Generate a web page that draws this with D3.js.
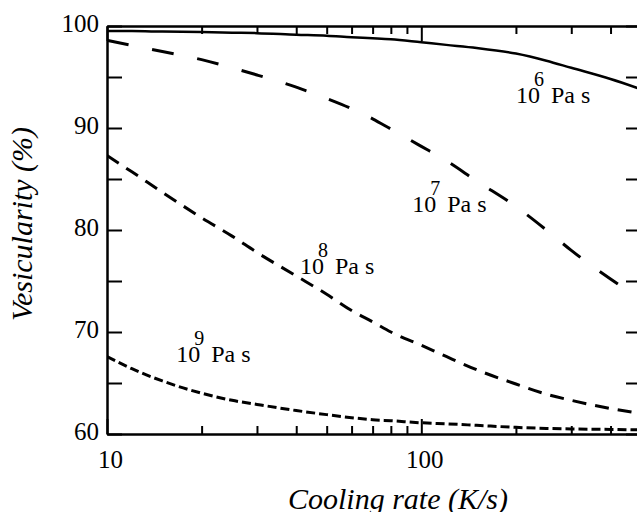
<!DOCTYPE html>
<meta charset="utf-8">
<style>
  body { margin: 0; background: #fff; }
  svg { display: block; }
  .axis path, .axis line { stroke: #000; stroke-width: 2; }
  .axis text, .title, .lab { font-family: "Liberation Serif", Tinos, "DejaVu Serif", "Times New Roman", Times, serif; fill: #000; }
  .axis text { font-size: 25px; }
  .title { font-style: italic; font-size: 30px; }
  .lab { font-size: 24px; }
</style>
<body>
<script src="https://d3js.org/d3.v7.min.js"></script>
<script>
// cooling rate (K/s) shared by all curves
var rate = [10, 12, 15, 20, 25, 30, 40, 50, 60, 70, 80, 100, 120, 150, 200, 250, 300, 400, 500];

// vesicularity (%) for each melt viscosity
var visc6 = [99.5, 99.5, 99.45, 99.4, 99.35, 99.3, 99.15, 99.05, 98.9, 98.8, 98.7, 98.4, 98.15, 97.85, 97.3, 96.6, 95.9, 94.8, 93.8];
var visc7 = [98.6, 98.1, 97.5, 96.7, 95.9, 95.2, 94.0, 92.9, 91.9, 90.9, 89.9, 88.2, 86.8, 84.8, 82.3, 80.0, 78.0, 75.2, 73.2];
var visc8 = [87.3, 85.7, 83.7, 81.2, 79.4, 77.8, 75.5, 73.7, 72.1, 71.0, 70.0, 68.7, 67.6, 66.3, 64.9, 63.9, 63.3, 62.5, 62.0];
var visc9 = [67.6, 66.4, 65.2, 64.0, 63.3, 62.9, 62.3, 61.9, 61.6, 61.4, 61.3, 61.1, 61.0, 60.85, 60.65, 60.55, 60.5, 60.45, 60.4];

var exponents = ["6", "7", "8", "9"];
// where each "10^n Pa s" label starts (rate, vesicularity at baseline)
var labelRate = [200, 93.5, 41.1, 16.6];
var labelVes = [92.45, 81.8, 75.7, 67.05];

var xMajor = [10, 100];
var xMinor = [20, 30, 40, 50, 60, 70, 80, 90, 200, 300, 400];
var yMajor = [60, 70, 80, 90, 100];
var yMinor = [65, 75, 85, 95];

var width = 637, height = 512;
var pLeft = 107, pRight = 641, pTop = 26, pBottom = 434;

var svg = d3.select("body").append("svg")
    .attr("width", width)
    .attr("height", height);

var x = d3.scaleLog().domain([10, 500]).range([pLeft, pRight]);
var y = d3.scaleLinear().domain([60, 100]).range([pBottom, pTop]);

// axes, ticks all pointing inward
svg.append("g").attr("class", "axis xlab")
    .attr("transform", "translate(0," + pBottom + ")")
    .call(d3.axisBottom(x).tickValues(xMajor).tickSizeInner(-15).tickSizeOuter(0)
      .tickPadding(16).tickFormat(d3.format("d")));
svg.append("g").attr("class", "axis")
    .attr("transform", "translate(0," + pBottom + ")")
    .call(d3.axisBottom(x).tickValues(xMinor).tickSizeInner(-8).tickSizeOuter(0).tickFormat(""));
svg.append("g").attr("class", "axis")
    .attr("transform", "translate(0," + pTop + ")")
    .call(d3.axisTop(x).tickValues(xMajor).tickSizeInner(-15).tickSizeOuter(0).tickFormat(""));
svg.append("g").attr("class", "axis")
    .attr("transform", "translate(0," + pTop + ")")
    .call(d3.axisTop(x).tickValues(xMinor).tickSizeInner(-8).tickSizeOuter(0).tickFormat(""));

svg.append("g").attr("class", "axis ylab")
    .attr("transform", "translate(" + pLeft + ",0)")
    .call(d3.axisLeft(y).tickValues(yMajor).tickSizeInner(-15).tickSizeOuter(0).tickPadding(8));
svg.append("g").attr("class", "axis")
    .attr("transform", "translate(" + pLeft + ",0)")
    .call(d3.axisLeft(y).tickValues(yMinor).tickSizeInner(-15).tickSizeOuter(0).tickFormat(""));
svg.append("g").attr("class", "axis")
    .attr("transform", "translate(" + pRight + ",0)")
    .call(d3.axisRight(y).tickValues(yMajor.concat(yMinor)).tickSizeInner(-15).tickSizeOuter(0).tickFormat(""));

// d3 puts font-family on the axis group; let the css win
svg.selectAll(".axis").attr("font-family", null).attr("font-size", null);

// nudge label positions to match the print
svg.selectAll(".ylab .tick text").attr("dy", "0.2em");
svg.selectAll(".xlab .tick text").attr("dx", 3);

// curves
var series = [
  { v: visc6, dash: null, w: 2.5 },
  { v: visc7, dash: "22,24", w: 3 },
  { v: visc8, dash: "14,9", w: 3 },
  { v: visc9, dash: "9,4", w: 3 }
];

var line = d3.line()
    .x(function(d) { return x(d[0]); })
    .y(function(d) { return y(d[1]); })
    .curve(d3.curveMonotoneX);

svg.append("clipPath").attr("id", "plot")
  .append("rect").attr("x", pLeft).attr("y", pTop)
    .attr("width", pRight - pLeft).attr("height", pBottom - pTop);

svg.append("g").attr("clip-path", "url(#plot)")
  .selectAll("path")
  .data(series)
  .enter().append("path")
    .attr("d", function(s) { return line(d3.zip(rate, s.v)); })
    .attr("fill", "none")
    .attr("stroke", "#000")
    .attr("stroke-width", function(s) { return s.w; })
    .attr("stroke-dasharray", function(s) { return s.dash; });

// curve labels
var labs = svg.selectAll("g.curvelab")
  .data(exponents)
  .enter().append("g")
    .attr("class", "curvelab")
    .attr("transform", function(d, i) {
      return "translate(" + x(labelRate[i]) + "," + y(labelVes[i]) + ")";
    });
labs.append("text").attr("class", "lab").text("10");
labs.append("text").attr("class", "lab").attr("x", 18).attr("y", -17)
    .style("font-size", "20px").text(function(d) { return d; });
labs.append("text").attr("class", "lab").attr("x", 35).text("Pa s");

// axis titles
svg.append("text").attr("class", "title")
    .attr("x", 398).attr("y", 509)
    .attr("text-anchor", "middle")
    .text("Cooling rate (K/s)");
svg.append("text").attr("class", "title")
    .attr("transform", "translate(32,224)rotate(-90)")
    .attr("text-anchor", "middle")
    .text("Vesicularity (%)");
</script>
</body>
